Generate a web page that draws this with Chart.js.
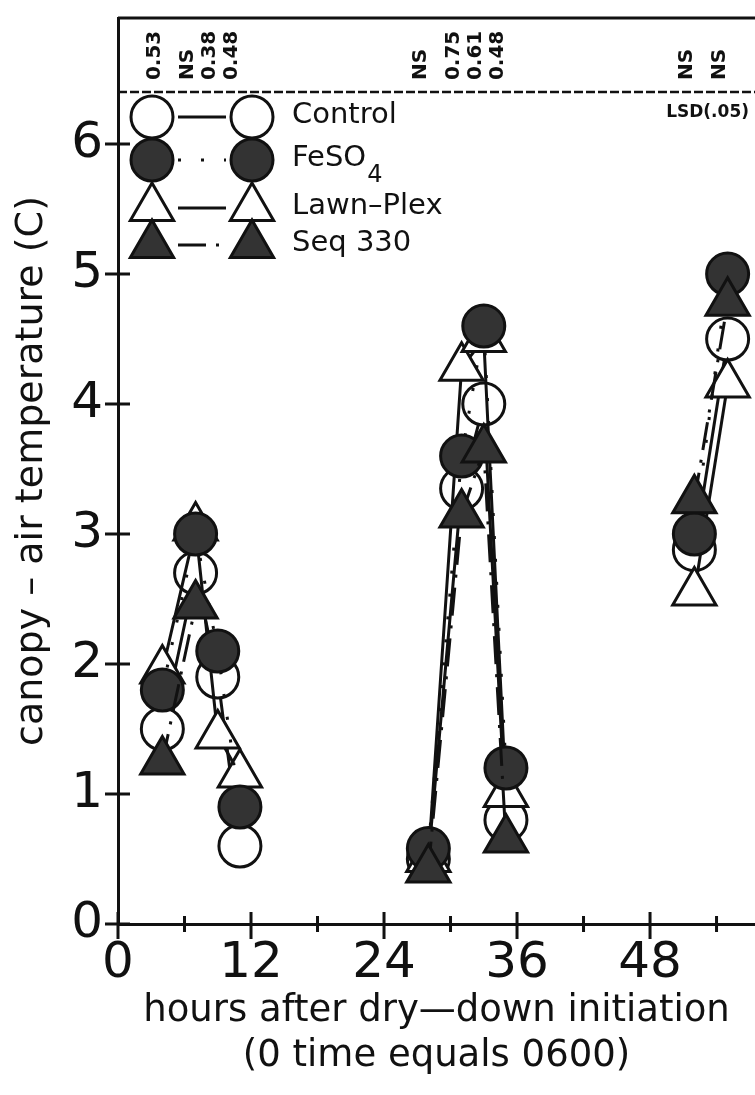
<!DOCTYPE html>
<html>
<head>
<meta charset="utf-8">
<script src="https://cdn.jsdelivr.net/npm/chart.js@4.4.1/dist/chart.umd.min.js"></script>
<style>
  html, body { margin: 0; padding: 0; background: #fff; }
  canvas { display: block; }
</style>
</head>
<body>
<canvas id="myChart" width="755" height="1095"></canvas>
<script>
// hours after dry-down initiation
const hours = [4, 7, 9, 11, 28, 31, 33, 35, 52, 55];
// canopy - air temperature (C)
const control  = [1.5, 2.7, 1.9, 0.6, 0.5, 3.35, 4.0, 0.8, 2.88, 4.5];
const feso4    = [1.8, 3.0, 2.1, 0.9, 0.58, 3.6, 4.6, 1.2, 3.0, 5.0];
const lawnPlex = [1.95, 3.05, 1.45, 1.15, 0.5, 4.28, 4.5, 1.0, 2.55, 4.15];
const seq330   = [1.25, 2.45, null, null, 0.42, 3.15, 3.65, 0.65, 3.26, 4.78];
// LSD(.05) for each time
const lsdLabels = ['0.53', 'NS', '0.38', '0.48', 'NS', '0.75', '0.61', '0.48', 'NS', 'NS'];
const lsdLine = 6.4;
const xMax = 57.47;
const yMax = 6.97;

const INK = '#111';
const DARK = '#333';
const FONT = "'DejaVu Sans', sans-serif";

function points(values) {
  return hours.map((h, i) => ({ x: h, y: values[i] }));
}

// no line between days
const dayBreak = {
  borderColor: ctx => (ctx.p1.parsed.x - ctx.p0.parsed.x > 12 ? 'rgba(0,0,0,0)' : INK)
};

const series = [
  { label: 'Control', data: points(control), pointStyle: 'circle', pointRadius: 21,
    pointBackgroundColor: '#fff', borderDash: [], order: 3 },
  { label: 'FeSO4', data: points(feso4), pointStyle: 'circle', pointRadius: 21,
    pointBackgroundColor: DARK, borderDash: [3, 20], order: 1 },
  { label: 'Lawn–Plex', data: points(lawnPlex), pointStyle: 'triangle', pointRadius: 25,
    pointBackgroundColor: '#fff', borderDash: [], order: 2 },
  { label: 'Seq 330', data: points(seq330), pointStyle: 'triangle', pointRadius: 25,
    pointBackgroundColor: DARK, borderDash: [28, 10, 3, 10], order: 0 }
];

const datasets = series.map(s => Object.assign({
  borderColor: INK,
  borderWidth: 3,
  pointBorderColor: INK,
  pointBorderWidth: 3,
  pointHoverRadius: s.pointRadius,
  spanGaps: false,
  clip: false,
  segment: dayBreak
}, s));

// ticks crossing the axes, frame, LSD strip, legend
const decorations = {
  id: 'decorations',
  afterDraw(chart) {
    const { ctx, chartArea: area, scales: { x, y } } = chart;
    ctx.save();
    ctx.strokeStyle = INK;
    ctx.fillStyle = INK;
    ctx.lineWidth = 3;
    ctx.beginPath();
    y.ticks.forEach(t => {
      const py = y.getPixelForValue(t.value);
      ctx.moveTo(area.left - 13, py);
      ctx.lineTo(area.left + 12, py);
    });
    x.ticks.forEach(t => {
      const px = x.getPixelForValue(t.value);
      const major = t.value % 12 === 0;
      ctx.moveTo(px, area.bottom - (major ? 12 : 8));
      ctx.lineTo(px, area.bottom + (major ? 15 : 8));
    });
    ctx.moveTo(area.left, area.top);
    ctx.lineTo(area.right, area.top);
    ctx.stroke();

    // LSD separator
    const lsdY = y.getPixelForValue(lsdLine);
    ctx.lineWidth = 2.5;
    ctx.setLineDash([9, 3]);
    ctx.beginPath();
    ctx.moveTo(area.left, lsdY);
    ctx.lineTo(area.right, lsdY);
    ctx.stroke();
    ctx.setLineDash([]);

    ctx.font = 'bold 20px ' + FONT;
    ctx.textAlign = 'left';
    ctx.textBaseline = 'middle';
    lsdLabels.forEach((lab, i) => {
      ctx.save();
      ctx.translate(x.getPixelForValue(hours[i]) - 8, lsdY - 12);
      ctx.rotate(-Math.PI / 2);
      ctx.fillText(lab, 0, 0);
      ctx.restore();
    });
    ctx.font = 'bold 17px ' + FONT;
    ctx.textAlign = 'right';
    ctx.fillText('LSD(.05)', area.right - 6, lsdY + 20);

    // legend
    const lx1 = area.left + 34, lx2 = area.left + 134, tx = area.left + 174;
    const rows = [area.top + 99, area.top + 142, area.top + 190, area.top + 227];
    series.forEach((s, i) => {
      const ry = rows[i];
      ctx.lineWidth = 3;
      ctx.setLineDash(s.borderDash);
      ctx.beginPath();
      ctx.moveTo(lx1 + 26, ry);
      ctx.lineTo(lx2 - 26, ry);
      ctx.stroke();
      ctx.setLineDash([]);
      [lx1, lx2].forEach(cx => {
        ctx.beginPath();
        if (s.pointStyle === 'circle') {
          ctx.arc(cx, ry, s.pointRadius, 0, Math.PI * 2);
        } else {
          const r = s.pointRadius;
          ctx.moveTo(cx, ry - r);
          ctx.lineTo(cx + 0.866 * r, ry + 0.5 * r);
          ctx.lineTo(cx - 0.866 * r, ry + 0.5 * r);
          ctx.closePath();
        }
        ctx.fillStyle = s.pointBackgroundColor;
        ctx.fill();
        ctx.stroke();
      });
      ctx.fillStyle = INK;
      ctx.font = '29px ' + FONT;
      ctx.textAlign = 'left';
      if (s.label === 'FeSO4') {
        ctx.fillText('FeSO', tx, ry - 2);
        const w = ctx.measureText('FeSO').width;
        ctx.font = '24px ' + FONT;
        ctx.fillText('4', tx + w + 1, ry + 16);
      } else {
        ctx.fillText(s.label, tx, ry - 2);
      }
    });
    ctx.restore();
  }
};

Chart.defaults.font.family = FONT;
Chart.defaults.color = INK;

new Chart(document.getElementById('myChart'), {
  type: 'line',
  data: { datasets },
  options: {
    responsive: false,
    animation: false,
    devicePixelRatio: 1,
    layout: { autoPadding: false, padding: { top: 18, left: 0, right: 0, bottom: 0 } },
    plugins: { legend: { display: false }, tooltip: { enabled: false } },
    scales: {
      x: {
        type: 'linear',
        min: 0,
        max: xMax,
        grid: { display: false, drawTicks: false },
        border: { display: true, color: INK, width: 3 },
        ticks: {
          stepSize: 6,
          includeBounds: false,
          autoSkip: false,
          maxRotation: 0,
          padding: 10,
          font: { size: 50 },
          callback: v => (v % 12 === 0 ? v : '')
        },
        title: {
          display: true,
          text: ['hours after dry—down initiation', '(0 time equals 0600)'],
          font: { size: 37, lineHeight: 1.22 },
          padding: { top: 0, bottom: 16 }
        },
        afterFit: s => { s.height = 171; s.paddingLeft = 0; s.paddingRight = 0; }
      },
      y: {
        min: 0,
        max: yMax,
        grid: { display: false, drawTicks: false },
        border: { display: true, color: INK, width: 3 },
        ticks: {
          stepSize: 1,
          includeBounds: false,
          padding: 15,
          font: { size: 50 }
        },
        title: {
          display: true,
          text: 'canopy – air temperature (C)',
          font: { size: 38, lineHeight: 1.2 },
          padding: { top: 9, bottom: 0 }
        },
        afterFit: s => { s.width = 118; s.paddingTop = 0; s.paddingBottom = 0; }
      }
    }
  },
  plugins: [decorations]
});
</script>
</body>
</html>
